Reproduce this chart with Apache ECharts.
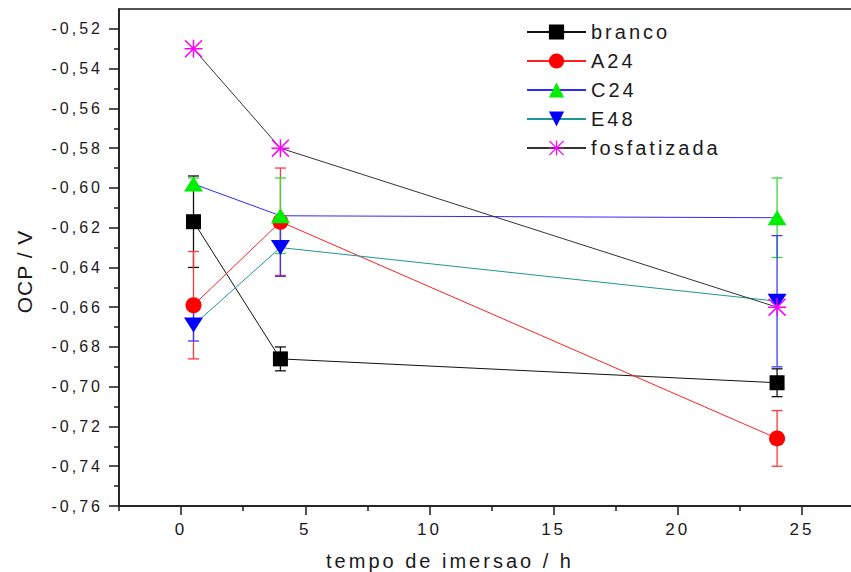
<!DOCTYPE html>
<html>
<head>
<meta charset="utf-8">
<script src="https://cdn.jsdelivr.net/npm/echarts@6/dist/echarts.min.js"></script>
<style>
  html, body { margin: 0; padding: 0; background: #ffffff; }
  #chart { width: 851px; height: 572px; }
  /* widely tracked lettering used throughout the plot */
  #chart text { letter-spacing: 3px; }
  #chart text[style*="21px"] { letter-spacing: 1px; }
</style>
</head>
<body>
<div id="chart"></div>
<script>
// Immersion time (h)
const hours = [0.5, 4, 24];

// Open-circuit potential (V) and standard deviations per coating
const branco = [-0.617, -0.686, -0.698];
const brancoErr = [0.023, 0.006, 0.007];
const a24 = [-0.659, -0.617, -0.726];
const a24Err = [0.027, 0.027, 0.014];
const c24 = [-0.598, -0.614, -0.615];
const c24Err = [0.003, 0.019, 0.020];
const e48 = [-0.669, -0.630, -0.657];
const e48Err = [0.008, 0.0145, 0.033];
const fosfatizada = [-0.530, -0.580, -0.660];

// Axis ticks
const xMajorTicks = [0, 5, 10, 15, 20, 25];
const xMinorTicks = [-2.5, 2.5, 7.5, 12.5, 17.5, 22.5];
const yMajorTicks = [-0.76, -0.74, -0.72, -0.70, -0.68, -0.66, -0.64, -0.62, -0.60, -0.58, -0.56, -0.54, -0.52];
const yMinorTicks = [-0.75, -0.73, -0.71, -0.69, -0.67, -0.65, -0.63, -0.61, -0.59, -0.57, -0.55, -0.53];

const FONT = 'Liberation Sans, Arial, sans-serif';
const INK = '#1a1a1a';

// Asterisk marker: four filled spokes (vertical, horizontal, two diagonals)
const ASTERISK = 'path://M46,0L54,0L54,100L46,100Z' +
  'M0,46L100,46L100,54L0,54Z' +
  'M0,6L6,0L100,94L94,100Z' +
  'M94,0L100,6L6,100L0,94Z';

function pairs(values) {
  return hours.map((h, i) => [h, values[i]]);
}

function lineSeries(name, values, lineColor, symbol, size, markerColor, rotate) {
  return {
    name: name,
    type: 'line',
    data: pairs(values),
    symbol: symbol,
    symbolSize: size,
    symbolRotate: rotate || 0,
    showSymbol: true,
    lineStyle: { color: lineColor, width: 1 },
    itemStyle: { color: markerColor, borderWidth: 0 },
    emphasis: { disabled: true },
    silent: true
  };
}

function errorSeries(name, values, errs, color) {
  return {
    name: name + ' (desvio)',
    type: 'custom',
    data: hours.map((h, i) => [h, values[i], errs[i]]),
    encode: { x: 0, y: 1 },
    silent: true,
    renderItem: function (params, api) {
      const x = api.value(0), v = api.value(1), e = api.value(2);
      const top = api.coord([x, v + e]);
      const bot = api.coord([x, v - e]);
      const hw = 5.5;
      const style = { stroke: color, lineWidth: 1.3 };
      return {
        type: 'group',
        children: [
          { type: 'line', shape: { x1: top[0], y1: top[1], x2: bot[0], y2: bot[1] }, style: style },
          { type: 'line', shape: { x1: top[0] - hw, y1: top[1], x2: top[0] + hw, y2: top[1] }, style: style },
          { type: 'line', shape: { x1: bot[0] - hw, y1: bot[1], x2: bot[0] + hw, y2: bot[1] }, style: style }
        ]
      };
    }
  };
}

const fmtY = v => v.toFixed(2).replace('.', ',');

const axisLineStyle = { color: INK, width: 1.5 };

const chart = echarts.init(document.getElementById('chart'), null, { renderer: 'svg' });

chart.setOption({
  animation: false,
  backgroundColor: '#ffffff',
  textStyle: { fontFamily: FONT, color: INK },
  grid: {
    left: 119, top: 9, right: -13, bottom: 66,
    outerBoundsMode: 'none', containLabel: false,
    show: true, borderColor: INK, borderWidth: 1.5, backgroundColor: 'transparent'
  },
  legend: {
    data: ['branco', 'A24', 'C24', 'E48', 'fosfatizada'],
    orient: 'vertical',
    left: 521, top: 17,
    itemWidth: 59, itemHeight: 19, itemGap: 9,
    textStyle: { fontFamily: FONT, fontSize: 20, color: INK },
    selectedMode: false
  },
  xAxis: [
    {
      type: 'value', min: -2.5, max: 27.5, interval: 2.5,
      position: 'bottom',
      axisLine: { show: true, onZero: false, lineStyle: axisLineStyle },
      axisTick: { show: true, inside: false, length: 9, customValues: xMajorTicks, lineStyle: axisLineStyle },
      axisLabel: {
        customValues: xMajorTicks, margin: 15,
        fontFamily: FONT, fontSize: 17, color: INK
      },
      splitLine: { show: false },
      name: 'tempo de imersao / h',
      nameLocation: 'middle', nameGap: 45,
      nameTextStyle: { fontFamily: FONT, fontSize: 20, color: INK, padding: [0, 83, 0, 0] }
    },
    {
      type: 'value', min: -2.5, max: 27.5, interval: 2.5,
      position: 'bottom',
      axisLine: { show: false, onZero: false },
      axisTick: { show: true, inside: false, length: 5, customValues: xMinorTicks, lineStyle: axisLineStyle },
      axisLabel: { show: false },
      splitLine: { show: false }
    }
  ],
  yAxis: [
    {
      type: 'value', min: -0.76, max: -0.51, interval: 0.01,
      position: 'left',
      axisLine: { show: true, onZero: false, lineStyle: axisLineStyle },
      axisTick: { show: true, inside: false, length: 10, customValues: yMajorTicks, lineStyle: axisLineStyle },
      axisLabel: {
        customValues: yMajorTicks, margin: 16, formatter: fmtY,
        fontFamily: FONT, fontSize: 16, color: INK
      },
      splitLine: { show: false },
      name: 'OCP / V',
      nameLocation: 'middle', nameGap: 84, nameRotate: 90,
      nameTextStyle: { fontFamily: FONT, fontSize: 21, color: INK, padding: [0, 28, 0, 0] }
    },
    {
      type: 'value', min: -0.76, max: -0.51, interval: 0.01,
      position: 'left',
      axisLine: { show: false, onZero: false },
      axisTick: { show: true, inside: false, length: 5, customValues: yMinorTicks, lineStyle: axisLineStyle },
      axisLabel: { show: false },
      splitLine: { show: false }
    }
  ],
  series: [
    errorSeries('branco', branco, brancoErr, '#111111'),
    lineSeries('branco', branco, '#111111', 'rect', 15, '#000000'),
    errorSeries('A24', a24, a24Err, '#ff3a3a'),
    lineSeries('A24', a24, '#ff2020', 'circle', 16, '#ff0000'),
    errorSeries('C24', c24, c24Err, '#3ad83a'),
    lineSeries('C24', c24, '#2b2bff', 'triangle', [19, 15], '#00ee00'),
    errorSeries('E48', e48, e48Err, '#3a3aff'),
    lineSeries('E48', e48, '#1f9595', 'triangle', [19, 15], '#0000ff', 180),
    lineSeries('fosfatizada', fosfatizada, '#333333', ASTERISK, 18, '#ff00ff')
  ]
});
</script>
</body>
</html>
